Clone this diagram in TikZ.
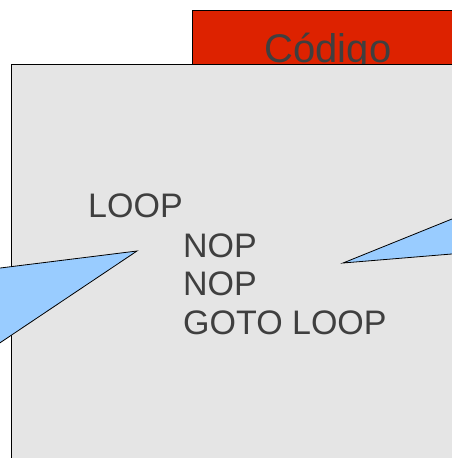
\documentclass[tikz,border=0pt]{standalone}
\usepackage{fontspec}
\setmainfont{Liberation Sans}
\definecolor{codered}{HTML}{DD2200}
\definecolor{panelgray}{HTML}{E5E5E5}
\definecolor{callout}{HTML}{99CCFF}
\definecolor{textgray}{HTML}{3F3F3F}
\tikzset{
  frame/.style={draw=black, line width=0.8pt},
  pointer/.style={draw=black, fill=callout, line width=0.8pt, line join=miter},
  code/.style={anchor=base west, inner sep=0pt, text=textgray,
    font=\fontsize{34}{40}\selectfont},
}
\begin{document}
\begin{tikzpicture}[x=1pt, y=-1pt]
  \useasboundingbox (0,0) rectangle (452,458);
  \clip (0,0) rectangle (452,458);
  % title tab behind the panel
  \draw[frame, fill=codered] (192,10) rectangle (470,120);
  \node[anchor=base, inner sep=0pt, text=textgray,
        font=\fontsize{40}{46}\selectfont] (title) at (328,62) {Código};
  % main panel
  \draw[frame, fill=panelgray] (11,64) rectangle (470,470);
  % callout wedges
  \draw[pointer] (137,251) -- (-60,275.5) -- (-60,383) -- cycle;
  \draw[pointer] (343,263) -- (500,199.6) -- (500,250) -- cycle;
  % program listing
  \node[code] (loop) at (88,217) {LOOP};
  \node[code] (nop1) at (183,257) {NOP};
  \node[code] (nop2) at (183,295.5) {NOP};
  \node[code] (goto) at (183,334) {GOTO LOOP};
\end{tikzpicture}
\end{document}
